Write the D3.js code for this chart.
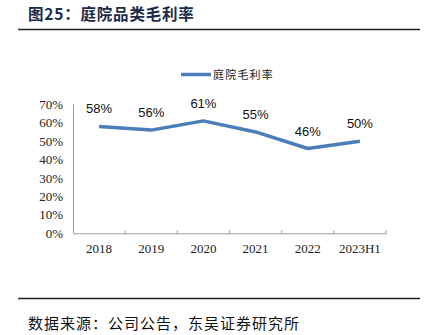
<!DOCTYPE html>
<html><head><meta charset="utf-8">
<script src="https://cdn.jsdelivr.net/npm/d3@7"></script>
<style>body{margin:0;background:#fff;}svg{display:block;}</style>
</head><body>
<script>
const categories = ["2018","2019","2020","2021","2022","2023H1"];
const values = [58, 56, 61, 55, 46, 50];
const yTicks = [0,10,20,30,40,50,60,70];
const seriesName = "庭院毛利率";
const title = "图25：庭院品类毛利率";
const source = "数据来源：公司公告，东吴证券研究所";

const W = 427, H = 335;
const svg = d3.select("body").append("svg").attr("width", W).attr("height", H);
const cjk = "'Noto Sans CJK SC', sans-serif";

svg.append("text").attr("x", 28).attr("y", 20).attr("font-family", cjk)
  .attr("font-weight", "bold").attr("font-size", 15.5).attr("letter-spacing", 0.8)
  .attr("fill", "#1c2b4a").text(title);
svg.append("line").attr("x1", 18).attr("x2", 420).attr("y1", 29.5).attr("y2", 29.5)
  .attr("stroke", "#222").attr("stroke-width", 1.6);

const x = d3.scaleBand().domain(categories).range([73, 386]);
const y = d3.scaleLinear().domain([0, 70]).range([233.3, 104.3]);

// y axis
svg.append("line").attr("x1", 73.5).attr("x2", 73.5).attr("y1", y(70)).attr("y2", y(0))
  .attr("stroke", "#999").attr("stroke-width", 1);
svg.append("g").selectAll("text").data(yTicks).join("text")
  .attr("x", 63).attr("y", d => y(d)).attr("dy", "0.35em").attr("text-anchor", "end")
  .attr("font-family", "'Liberation Serif', serif").attr("font-size", 13).attr("fill", "#222")
  .text(d => d + "%");

// x axis
const xAxis = d3.axisBottom(x).tickSizeInner(-3).tickSizeOuter(0).tickFormat("");
const gx = svg.append("g").attr("transform", `translate(0,${y(0)})`).call(xAxis);
gx.select(".domain").attr("stroke", "#999");
gx.selectAll(".tick line").attr("stroke", "#999")
  .attr("transform", d => `translate(${x.bandwidth()/2},0)`);
gx.append("line").attr("x1", 73.5).attr("x2", 73.5).attr("y1", 0).attr("y2", -3).attr("stroke", "#999");
svg.append("g").selectAll("text").data(categories).join("text")
  .attr("x", d => x(d) + x.bandwidth()/2).attr("y", 253).attr("text-anchor", "middle")
  .attr("font-family", "'Liberation Serif', serif").attr("font-size", 13).attr("fill", "#222")
  .text(d => d);

// line
const color = "#4a7ebb";
const line = d3.line().x((d, i) => x(categories[i]) + x.bandwidth()/2).y(d => y(d));
svg.append("path").datum(values).attr("d", line).attr("fill", "none")
  .attr("stroke", color).attr("stroke-width", 3.5).attr("stroke-linejoin", "round");

svg.append("g").selectAll("text").data(values).join("text")
  .attr("x", (d, i) => x(categories[i]) + x.bandwidth()/2)
  .attr("y", d => y(d) - 13).attr("text-anchor", "middle")
  .attr("font-family", "'Liberation Sans', Arial, sans-serif").attr("font-size", 13).attr("fill", "#111")
  .text(d => d + "%");

// legend
svg.append("line").attr("x1", 181).attr("x2", 211).attr("y1", 74.5).attr("y2", 74.5)
  .attr("stroke", color).attr("stroke-width", 3.5);
svg.append("text").attr("x", 213).attr("y", 78.5).attr("font-family", cjk)
  .attr("font-size", 11).attr("letter-spacing", 1.2).attr("fill", "#222").text(seriesName);

// bottom
svg.append("line").attr("x1", 18).attr("x2", 420).attr("y1", 298.5).attr("y2", 298.5)
  .attr("stroke", "#222").attr("stroke-width", 1.6);
svg.append("text").attr("x", 28).attr("y", 329).attr("font-family", cjk)
  .attr("font-size", 15).attr("letter-spacing", 1.0).attr("fill", "#111").text(source);
</script>
</body></html>
